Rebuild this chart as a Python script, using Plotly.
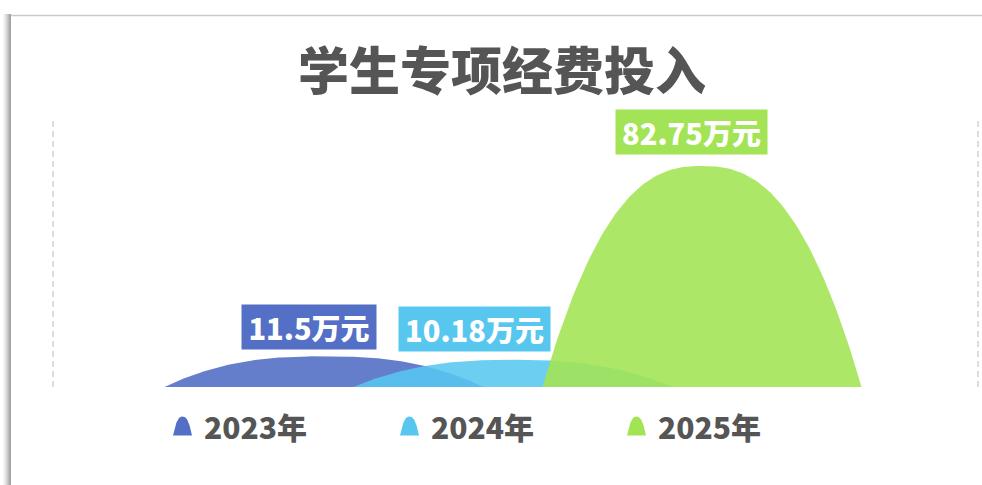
import numpy as np
import plotly.graph_objects as go

# ---------------- data ----------------
CATEGORIES = ["2023", "2024", "2025"]
VALUES = [11.5, 10.18, 82.75]
UNIT = "万元"
LEGEND_SUFFIX = "年"
TITLE = "学生专项经费投入"

# ---------------- style ----------------
BOX_COLORS = ["#5470C6", "#58C7EF", "#A3E456"]
FILL_COLORS = ["rgba(84,112,198,0.9)", "rgba(88,199,239,0.88)", "rgba(163,228,86,0.9)"]
LABEL_XSHIFT = [-15, -39, -11]
LABEL_YSHIFT = [6, 8, 11]
FONT = "Noto Sans CJK SC"
TEXT_GREY = "#555555"
LABEL_SIZE = 29
LEGEND_SIZE = 30

W, H = 982, 485
PLOT_L, PLOT_R, PLOT_T, PLOT_B = 53, 978, 120, 387
X_ORIGIN_PX, X_STEP_PX = 324, 189
HALF_WIDTH = 0.844
SHAPE_POWER = 2.5
Y_MAX = 100

LEGEND_X0, LEGEND_STEP, LEGEND_Y = 182.5, 227, 426
ICON_HALF_W, ICON_H = 9.5, 19


def mountain(center, height, half_w, n=121):
    t = np.linspace(-1, 1, n)
    xs = center + half_w * t
    ys = height * (1 - np.abs(t) ** SHAPE_POWER)
    return xs, ys


def text_em(s):
    em = 0.0
    for ch in s:
        if ch.isdigit():
            em += 0.57
        elif ch == ".":
            em += 0.3
        else:
            em += 1.0
    return em


fig = go.Figure()

# main mountains
for i, (cat, v) in enumerate(zip(CATEGORIES, VALUES)):
    xs, ys = mountain(i, v, HALF_WIDTH)
    fig.add_trace(go.Scatter(
        x=xs, y=ys, mode="lines", fill="toself",
        fillcolor=FILL_COLORS[i], line=dict(width=0, color=BOX_COLORS[i]),
        name=cat + LEGEND_SUFFIX, showlegend=False, hoverinfo="skip",
        xaxis="x", yaxis="y",
    ))

# legend icons (pixel overlay)
for i, cat in enumerate(CATEGORIES):
    cx = LEGEND_X0 + i * LEGEND_STEP
    t = np.linspace(-1, 1, 61)
    xs = cx + ICON_HALF_W * t
    ys = (LEGEND_Y + ICON_H / 2) - ICON_H * (1 - np.abs(t) ** SHAPE_POWER)
    fig.add_trace(go.Scatter(
        x=xs, y=ys, mode="lines", fill="toself",
        fillcolor=BOX_COLORS[i], line=dict(width=0, color=BOX_COLORS[i]),
        showlegend=False, hoverinfo="skip", xaxis="x2", yaxis="y2",
    ))

annotations = []
# value labels
for i, v in enumerate(VALUES):
    txt = f"{v}{UNIT}"
    annotations.append(dict(
        x=i, y=v, xref="x", yref="y", text=txt,
        showarrow=False, xanchor="center", yanchor="bottom",
        xshift=LABEL_XSHIFT[i], yshift=LABEL_YSHIFT[i],
        font=dict(family=FONT, size=LABEL_SIZE, color="white", weight=800),
        bgcolor=BOX_COLORS[i], borderpad=5,
        width=round(text_em(txt) * LABEL_SIZE) + 8, height=34,
        align="center", valign="middle",
    ))
# legend texts
for i, cat in enumerate(CATEGORIES):
    annotations.append(dict(
        x=LEGEND_X0 + i * LEGEND_STEP + 19, y=LEGEND_Y, xref="x2", yref="y2",
        text=f"{cat}{LEGEND_SUFFIX}", showarrow=False,
        xanchor="left", yanchor="middle",
        font=dict(family=FONT, size=LEGEND_SIZE, color=TEXT_GREY, weight=800),
    ))
# title
annotations.append(dict(
    x=502, y=68, xref="x2", yref="y2", text=TITLE,
    showarrow=False, xanchor="center", yanchor="middle",
    font=dict(family=FONT, size=51, color=TEXT_GREY, weight=900),
))

shapes = []
# dashed side lines of the grid
for xd in (0, 1):
    shapes.append(dict(type="line", xref="x domain", yref="y domain",
                       x0=xd, x1=xd, y0=0, y1=1,
                       line=dict(color="#DDDDDD", width=2, dash="6px,4px")))
# card frame: top border and left shadow
shapes.append(dict(type="line", xref="x2", yref="y2", x0=10, x1=W, y0=15.5, y1=15.5,
                   line=dict(color="#C9C9C9", width=1.5)))
shadow = ["#F6F6F6", "#EEEEEE", "#E4E4E4", "#D8D8D8", "#CACACA", "#BBBBBB", "#ADADAD", "#A4A4A4"]
for k, col in enumerate(shadow):
    shapes.append(dict(type="line", xref="x2", yref="y2", x0=3.5 + k, x1=3.5 + k,
                       y0=14, y1=H, line=dict(color=col, width=1)))

fig.update_layout(
    width=W, height=H,
    margin=dict(l=0, r=0, t=0, b=0),
    paper_bgcolor="white", plot_bgcolor="rgba(0,0,0,0)",
    showlegend=False,
    xaxis=dict(domain=[PLOT_L / W, PLOT_R / W],
               range=[(PLOT_L - X_ORIGIN_PX) / X_STEP_PX, (PLOT_R - X_ORIGIN_PX) / X_STEP_PX],
               visible=False, fixedrange=True),
    yaxis=dict(domain=[1 - PLOT_B / H, 1 - PLOT_T / H], range=[0, Y_MAX],
               visible=False, fixedrange=True),
    xaxis2=dict(domain=[0, 1], range=[0, W], visible=False, anchor="y2"),
    yaxis2=dict(domain=[0, 1], range=[H, 0], visible=False, anchor="x2"),
    annotations=annotations,
    shapes=shapes,
)

fig.write_html(
    "out.html",
    config={"displayModeBar": False},
    post_script="document.body.style.margin='0';document.body.style.overflow='hidden';",
)
